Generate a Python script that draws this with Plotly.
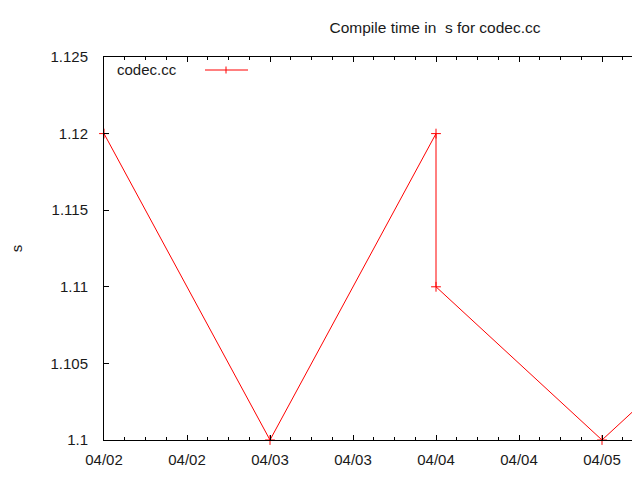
import plotly.graph_objects as go

times = ["2010-04-02 00:00", "2010-04-03 00:00", "2010-04-04 00:00",
         "2010-04-04 00:00", "2010-04-05 00:00", "2010-04-06 00:00"]
values = [1.12, 1.10, 1.12, 1.11, 1.10, 1.11]
series_name = "codec.cc"
y_ticks = [1.1, 1.105, 1.11, 1.115, 1.12, 1.125]

FONT = "Liberation Sans"
OFF = 8  # page body margin
W, H = 640, 480 - 2 * OFF
L, T = 104 - OFF, 57 - OFF
B = H - (440 - OFF)
PW, PH = W - L, H - T - B

def px(xp):
    return (xp - OFF - L) / PW

def py(yp):
    return (H - B - (yp - OFF)) / PH

fig = go.Figure()
fig.add_trace(go.Scatter(
    x=times, y=values, mode="lines+markers", name=series_name,
    line=dict(color="#ff0000", width=1),
    marker=dict(symbol="cross-thin", size=7, line=dict(color="#ff0000", width=1)),
    cliponaxis=False, showlegend=False,
))

fig.update_layout(
    width=W, height=H,
    margin=dict(l=L, r=0, t=T, b=B, autoexpand=False),
    paper_bgcolor="white", plot_bgcolor="white",
    font=dict(family=FONT, size=15, color="#1a1a1a"),
    title=dict(text="Compile time in  s for codec.cc", x=(435 - OFF) / W, xanchor="center",
               y=1 - (28 - OFF) / H, yanchor="middle", font=dict(size=15.5, family=FONT)),
    xaxis=dict(
        type="date", range=["2010-04-02 00:00", "2010-04-05 06:39"],
        dtick=12*3600*1000, tick0="2010-04-02 00:00", tickformat="%m/%d",
        ticks="inside", ticklen=5, tickcolor="black", tickwidth=1,
        showline=True, linecolor="black", linewidth=1, mirror="allticks",
        showgrid=False, zeroline=False, ticklabelstandoff=6, automargin=False,
        minor=dict(dtick=3*3600*1000, ticks="inside", ticklen=3, tickcolor="black", showgrid=False),
    ),
    yaxis=dict(
        range=[1.1, 1.125], tickvals=y_ticks, ticktext=[str(v) for v in y_ticks],
        ticks="inside", ticklen=5, tickcolor="black", tickwidth=1,
        showline=True, linecolor="black", linewidth=1,
        showgrid=False, zeroline=False, ticklabelstandoff=12, automargin=False,
        title=dict(text="s", standoff=32, font=dict(size=15)),
    ),
)

# gnuplot-style key: text, then line sample with a marker
fig.add_annotation(text=series_name, xref="paper", yref="paper",
                   x=px(115), y=py(70), xanchor="left", yanchor="middle",
                   showarrow=False, font=dict(size=15, family=FONT, color="#1a1a1a"))
fig.add_shape(type="line", xref="paper", yref="paper",
              x0=px(205), x1=px(248), y0=py(70), y1=py(70),
              line=dict(color="#ff0000", width=1))
fig.add_shape(type="line", xref="paper", yref="paper",
              x0=px(226), x1=px(226), y0=py(73.5), y1=py(66.5),
              line=dict(color="#ff0000", width=1))

fig.write_html("out.html")
